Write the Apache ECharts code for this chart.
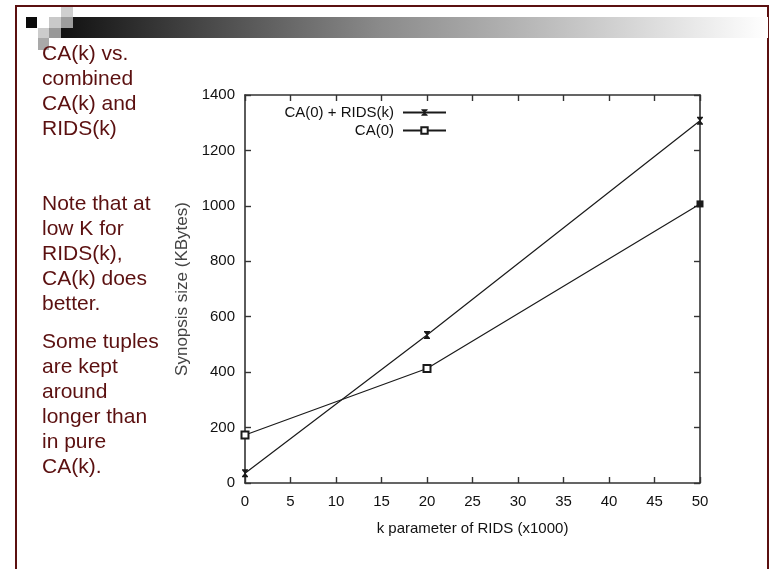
<!DOCTYPE html>
<html>
<head>
<meta charset="utf-8">
<script src="https://cdn.jsdelivr.net/npm/echarts@6/dist/echarts.min.js"></script>
<style>
  html, body { margin: 0; padding: 0; background: #ffffff; }
  #chart { width: 773px; height: 569px; }
</style>
</head>
<body>
<div id="chart"></div>
<script>
// k parameter of RIDS, in thousands
var kValues = [0, 20, 50];
// Synopsis size (KBytes) for each configuration
var combinedSizes = [35, 534, 1307];   // CA(0) + RIDS(k)
var caSizes = [173, 413, 1007];        // CA(0)
var seriesNames = ['CA(0) + RIDS(k)', 'CA(0)'];

var xTicks = { min: 0, max: 50, step: 5 };
var yTicks = { min: 0, max: 1400, step: 200 };

var slideTitle = 'CA(k) vs.\ncombined\nCA(k) and\nRIDS(k)';
var slideNote = 'Note that at\nlow K for\nRIDS(k),\nCA(k) does\nbetter.';
var slideNote2 = 'Some tuples\nare kept\naround\nlonger than\nin pure\nCA(k).';

var chart = echarts.init(document.getElementById('chart'), null, { renderer: 'canvas' });

var ink = '#111111';
var frame = '#333333';
var maroon = '#5b1010';
var font = 'Liberation Sans, Arial, sans-serif';

function pairs(xs, ys) {
  return xs.map(function (x, i) { return [x, ys[i]]; });
}

// Hourglass-like point marker used for the first series
var hourglass = 'path://M0,0 L6,0 L6,1 L3.8,3.5 L3.8,4.5 L6,7 L6,8 L0,8 L0,7 L2.2,4.5 L2.2,3.5 L0,1 Z';

var caData = pairs(kValues, caSizes).map(function (p, i) {
  // the last square sits on the frame and renders solid
  return i === kValues.length - 1 ? { value: p, symbol: 'rect' } : p;
});

function plain(v) { return String(v); }

var commonX = {
  type: 'value', min: xTicks.min, max: xTicks.max, interval: xTicks.step, gridIndex: 0,
  axisLine: { show: true, onZero: false, lineStyle: { color: frame, width: 1.6 } },
  axisTick: { show: true, inside: true, length: 6, lineStyle: { color: frame, width: 1.4 } },
  splitLine: { show: false }
};
var commonY = {
  type: 'value', min: yTicks.min, max: yTicks.max, interval: yTicks.step, gridIndex: 0,
  axisLine: { show: true, onZero: false, lineStyle: { color: frame, width: 1.6 } },
  axisTick: { show: true, inside: true, length: 6, lineStyle: { color: frame, width: 1.4 } },
  splitLine: { show: false }
};

var option = {
  backgroundColor: '#ffffff',
  animation: false,
  grid: { left: 245, right: 73, top: 95, bottom: 86, containLabel: false },
  xAxis: [
    Object.assign({}, commonX, {
      position: 'bottom',
      name: 'k parameter of RIDS (x1000)',
      nameLocation: 'middle',
      nameGap: 38,
      nameTextStyle: { color: ink, fontSize: 15, fontFamily: font },
      axisLabel: { color: ink, fontSize: 15, fontFamily: font, margin: 11, formatter: plain }
    }),
    Object.assign({}, commonX, { position: 'top', axisLabel: { show: false } })
  ],
  yAxis: [
    Object.assign({}, commonY, {
      position: 'left',
      name: 'Synopsis size (KBytes)',
      nameLocation: 'middle',
      nameGap: 50,
      nameTextStyle: { color: '#444', fontSize: 17, fontFamily: font },
      axisLabel: { color: ink, fontSize: 15, fontFamily: font, margin: 10, formatter: plain }
    }),
    Object.assign({}, commonY, { position: 'right', axisLabel: { show: false } })
  ],
  legend: [
    {
      data: [seriesNames[0]], right: 326, top: 105, align: 'right', orient: 'vertical',
      itemWidth: 43, itemHeight: 8, padding: 0,
      textStyle: { color: ink, fontSize: 15, fontFamily: font, padding: [0, 4, 0, 0] }
    },
    {
      data: [seriesNames[1]], right: 326, top: 123, align: 'right', orient: 'vertical',
      itemWidth: 43, itemHeight: 8, padding: 0,
      textStyle: { color: ink, fontSize: 15, fontFamily: font, padding: [0, 4, 0, 0] }
    }
  ],
  series: [
    {
      name: seriesNames[0], type: 'line', data: pairs(kValues, combinedSizes),
      symbol: hourglass, symbolSize: [6, 8], showAllSymbol: true,
      lineStyle: { color: '#1a1a1a', width: 1.2 },
      itemStyle: { color: '#1a1a1a' },
      clip: false
    },
    {
      name: seriesNames[1], type: 'line', data: caData,
      symbol: 'emptyRect', symbolSize: 7, showAllSymbol: true,
      lineStyle: { color: '#1a1a1a', width: 1.2 },
      itemStyle: { color: '#1a1a1a', borderWidth: 1.4 },
      clip: false
    }
  ],
  graphic: [
    // slide frame
    { type: 'line', shape: { x1: 16, y1: 6, x2: 769, y2: 6 }, style: { stroke: maroon, lineWidth: 2 }, silent: true },
    { type: 'line', shape: { x1: 16, y1: 5, x2: 16, y2: 569 }, style: { stroke: maroon, lineWidth: 2 }, silent: true },
    { type: 'line', shape: { x1: 768, y1: 5, x2: 768, y2: 569 }, style: { stroke: maroon, lineWidth: 2 }, silent: true },
    // title band
    {
      type: 'rect', shape: { x: 61, y: 17, width: 707, height: 21 }, silent: true,
      style: {
        fill: new echarts.graphic.LinearGradient(0, 0, 1, 0, [
          { offset: 0, color: '#111111' },
          { offset: 0.45, color: '#8a8a8a' },
          { offset: 1, color: '#ffffff' }
        ])
      }
    },
    { type: 'rect', shape: { x: 61, y: 7, width: 12, height: 10 }, style: { fill: '#cfcfcf' }, silent: true },
    { type: 'rect', shape: { x: 26, y: 17, width: 11, height: 11 }, style: { fill: '#0a0a0a' }, silent: true },
    { type: 'rect', shape: { x: 49, y: 17, width: 12, height: 11 }, style: { fill: '#c9c9c9' }, silent: true },
    { type: 'rect', shape: { x: 61, y: 17, width: 12, height: 11 }, style: { fill: '#9d9d9d' }, silent: true },
    { type: 'rect', shape: { x: 38, y: 28, width: 11, height: 10 }, style: { fill: '#cccccc' }, silent: true },
    { type: 'rect', shape: { x: 49, y: 28, width: 12, height: 10 }, style: { fill: '#999999' }, silent: true },
    { type: 'rect', shape: { x: 38, y: 38, width: 11, height: 12 }, style: { fill: '#a9a9a9' }, silent: true },
    // slide text
    {
      type: 'text', x: 42, y: 42, silent: true,
      style: { text: slideTitle, fill: maroon, font: '21px ' + font, lineHeight: 25, verticalAlign: 'top' }
    },
    {
      type: 'text', x: 42, y: 192, silent: true,
      style: { text: slideNote, fill: maroon, font: '21px ' + font, lineHeight: 25, verticalAlign: 'top' }
    },
    {
      type: 'text', x: 42, y: 330, silent: true,
      style: { text: slideNote2, fill: maroon, font: '21px ' + font, lineHeight: 25, verticalAlign: 'top' }
    }
  ]
};

chart.setOption(option);
</script>
</body>
</html>
